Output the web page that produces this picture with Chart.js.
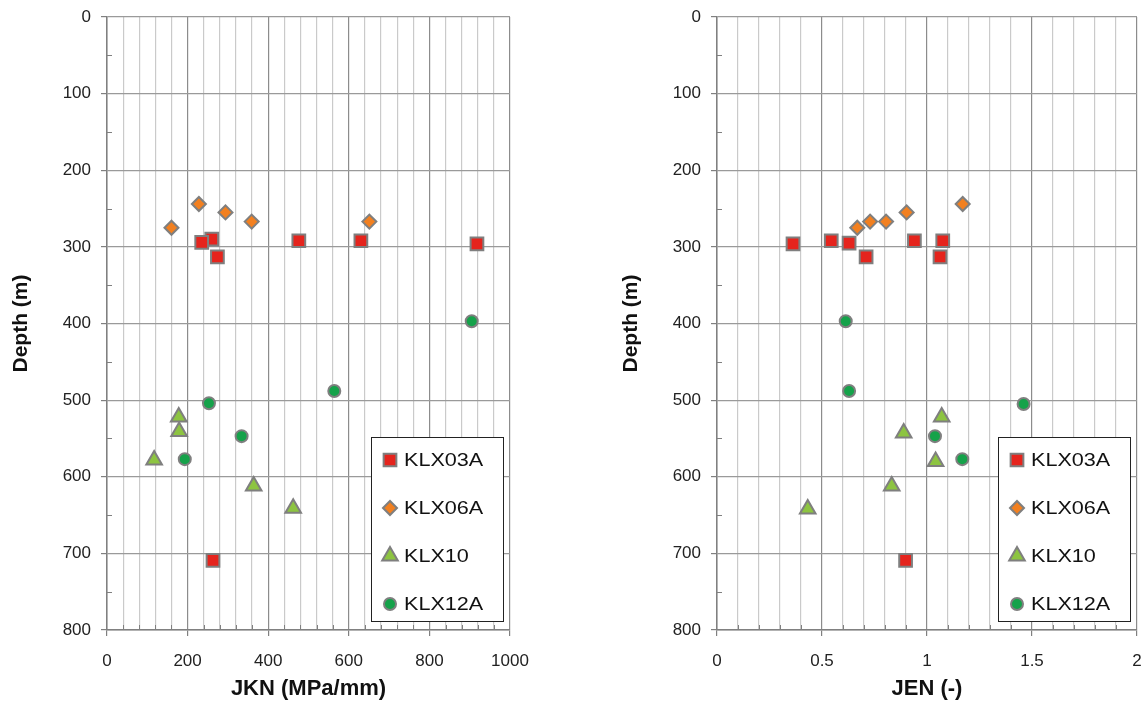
<!DOCTYPE html>
<html>
<head>
<meta charset="utf-8">
<script src="https://cdn.jsdelivr.net/npm/chart.js@4/dist/chart.umd.min.js"></script>
<style>
    html, body { margin: 0; padding: 0; background: #fff; overflow: hidden; }
    #wrap { position: relative; width: 1146px; height: 702px; overflow: hidden; }
    canvas { position: absolute; top: -5px; }
</style>
</head>
<body>
<div id="wrap">
    <canvas id="jknChart" width="573" height="707" style="left:0"></canvas>
    <canvas id="jenChart" width="573" height="707" style="left:589px"></canvas>
</div>
<script>
// boreholes
const seriesNames = ["KLX03A", "KLX06A", "KLX10", "KLX12A"];

// JKN (MPa/mm) panel
const jknKLX03A = [260, 235, 274, 476, 630, 918, 263];
const jknDepthKLX03A = [290, 294, 313, 292, 292, 296, 709];
const jknKLX06A = [160, 228, 294, 359, 651];
const jknDepthKLX06A = [275, 244, 255, 267, 267];
const jknKLX10 = [178, 179, 117, 364, 462];
const jknDepthKLX10 = [522, 541, 578, 612, 641];
const jknKLX12A = [905, 564, 253, 334, 193];
const jknDepthKLX12A = [397, 488, 504, 547, 577];

// JEN (-) panel
const jenKLX03A = [0.362, 0.544, 0.629, 0.71, 0.94, 1.075, 1.062, 0.898];
const jenDepthKLX03A = [296, 292, 295, 313, 292, 292, 313, 709];
const jenKLX06A = [0.668, 0.729, 0.805, 0.903, 1.17];
const jenDepthKLX06A = [275, 267, 267, 255, 244];
const jenKLX10 = [1.07, 0.889, 1.041, 0.832, 0.432];
const jenDepthKLX10 = [522, 543, 580, 612, 642];
const jenKLX12A = [0.613, 0.629, 1.46, 1.038, 1.168];
const jenDepthKLX12A = [397, 488, 505, 547, 577];

// axis ticks
const depthTicks = [0, 100, 200, 300, 400, 500, 600, 700, 800];
const jknTicks = [0, 200, 400, 600, 800, 1000];
const jenTicks = [0, 0.5, 1, 1.5, 2];

Chart.defaults.font.family = "'Liberation Sans', Arial, sans-serif";
Chart.defaults.color = "#222";

const markerStyles = [
    { pointStyle: "rect", radius: 9, fill: "#e5241d" },
    { pointStyle: "rectRot", radius: 7, fill: "#f28020" },
    { pointStyle: "triangle", radius: 9, fill: "#8dc441" },
    { pointStyle: "circle", radius: 6, fill: "#15a24a" }
];
const markerBorder = "#7f7f7f";

const pairUp = (xs, ys) => xs.map((x, i) => ({ x: x, y: ys[i] }));
const isOn = (v, step) => Math.abs(v / step - Math.round(v / step)) < 1e-6;

// legend box + inward minor ticks
const panelExtras = {
    id: "panelExtras",
    afterDraw(chart, args, opts) {
        const ctx = chart.ctx;
        const area = chart.chartArea;
        const xs = chart.scales.x, ys = chart.scales.y;
        ctx.save();
        ctx.strokeStyle = "#808080";
        ctx.lineWidth = 1;
        ctx.beginPath();
        ys.ticks.forEach(t => {
            if (!isOn(t.value, opts.yMajor)) {
                const py = Math.round(ys.getPixelForValue(t.value)) + 0.5;
                ctx.moveTo(area.left, py);
                ctx.lineTo(area.left + 5, py);
            }
        });
        xs.ticks.forEach(t => {
            if (!isOn(t.value, opts.xMajor)) {
                const px = Math.round(xs.getPixelForValue(t.value)) + 0.5;
                ctx.moveTo(px, area.bottom);
                ctx.lineTo(px, area.bottom - 5);
            }
        });
        ctx.stroke();

        // legend
        const w = 132, h = 184;
        const left = area.right - 7 - w, top = area.bottom - 9 - h;
        ctx.fillStyle = "#fff";
        ctx.fillRect(left, top, w, h);
        ctx.strokeStyle = "#222";
        ctx.strokeRect(left + 0.5, top + 0.5, w, h);
        ctx.font = "18px 'Liberation Sans', Arial, sans-serif";
        ctx.textBaseline = "middle";
        chart.data.datasets.forEach((ds, i) => {
            const m = markerStyles[i];
            const cy = top + 23 + 48 * i;
            ctx.fillStyle = m.fill;
            ctx.strokeStyle = markerBorder;
            ctx.lineWidth = 2;
            Chart.helpers.drawPoint(ctx, { pointStyle: m.pointStyle, radius: m.radius, rotation: 0, borderWidth: 2 }, left + 19, cy);
            // the original text is a little wider than Arial
            ctx.save();
            ctx.translate(left + 33, cy + 1);
            ctx.scale(1.2, 1);
            ctx.fillStyle = "#111";
            ctx.fillText(ds.label, 0, 0);
            ctx.restore();
        });
        ctx.restore();
    }
};

function makePanel(canvasId, xData, yData, xMax, xStep, xMajor, xTitle, fmt, yWidth, yTitlePad, padRight) {
    const datasets = seriesNames.map((name, i) => ({
        label: name,
        data: pairUp(xData[i], yData[i]),
        pointStyle: markerStyles[i].pointStyle,
        pointRadius: markerStyles[i].radius,
        pointHoverRadius: markerStyles[i].radius,
        backgroundColor: markerStyles[i].fill,
        borderColor: markerBorder,
        borderWidth: 2,
        showLine: false
    }));

    return new Chart(document.getElementById(canvasId), {
        type: "scatter",
        data: { datasets: datasets },
        plugins: [panelExtras],
        options: {
            responsive: false,
            animation: false,
            layout: { padding: { top: 22, right: padRight, bottom: 0, left: 0 } },
            plugins: {
                legend: { display: false },
                tooltip: { enabled: false },
                panelExtras: { xMajor: xMajor, yMajor: 100 }
            },
            scales: {
                x: {
                    type: "linear",
                    min: 0,
                    max: xMax,
                    afterFit: s => { s.height = 72; },
                    border: { color: "#808080", width: 1.5 },
                    grid: {
                        color: c => isOn(c.tick.value, xMajor) ? "#8c8c8c" : "#cacaca",
                        lineWidth: 1.2,
                        tickLength: 6,
                        tickColor: c => isOn(c.tick.value, xMajor) ? "#808080" : "rgba(0,0,0,0)"
                    },
                    ticks: {
                        stepSize: xStep,
                        autoSkip: false,
                        maxRotation: 0,
                        padding: 15,
                        font: { size: 17 },
                        color: "#222",
                        callback: v => isOn(v, xMajor) ? fmt(v) : ""
                    },
                    title: {
                        display: true,
                        text: xTitle,
                        font: { size: 22, weight: "bold" },
                        color: "#111",
                        padding: { top: 0, bottom: 0 }
                    }
                },
                y: {
                    type: "linear",
                    reverse: true,
                    min: depthTicks[0],
                    max: depthTicks[depthTicks.length - 1],
                    afterFit: s => { s.width = yWidth; },
                    border: { color: "#808080", width: 1.5 },
                    grid: {
                        color: c => isOn(c.tick.value, 100) ? "#9a9a9a" : "rgba(0,0,0,0)",
                        lineWidth: 1.2,
                        tickLength: 6,
                        tickColor: c => isOn(c.tick.value, 100) ? "#808080" : "rgba(0,0,0,0)"
                    },
                    ticks: {
                        stepSize: 50,
                        autoSkip: false,
                        padding: 10,
                        font: { size: 17 },
                        color: "#222",
                        callback: v => depthTicks.includes(v) ? String(v) : ""
                    },
                    title: {
                        display: true,
                        text: "Depth (m)",
                        font: { size: 21, weight: "bold" },
                        color: "#111",
                        padding: { top: yTitlePad, bottom: 0 }
                    }
                }
            }
        }
    });
}

makePanel("jknChart",
    [jknKLX03A, jknKLX06A, jknKLX10, jknKLX12A],
    [jknDepthKLX03A, jknDepthKLX06A, jknDepthKLX10, jknDepthKLX12A],
    jknTicks[jknTicks.length - 1], 40, 200, "JKN (MPa/mm)",
    v => String(Math.round(v)), 107, 9, 63);

makePanel("jenChart",
    [jenKLX03A, jenKLX06A, jenKLX10, jenKLX12A],
    [jenDepthKLX03A, jenDepthKLX06A, jenDepthKLX10, jenDepthKLX12A],
    jenTicks[jenTicks.length - 1], 0.1, 0.5, "JEN (-)",
    v => String(Math.round(v * 10) / 10), 128, 30, 25);
</script>
</body>
</html>
